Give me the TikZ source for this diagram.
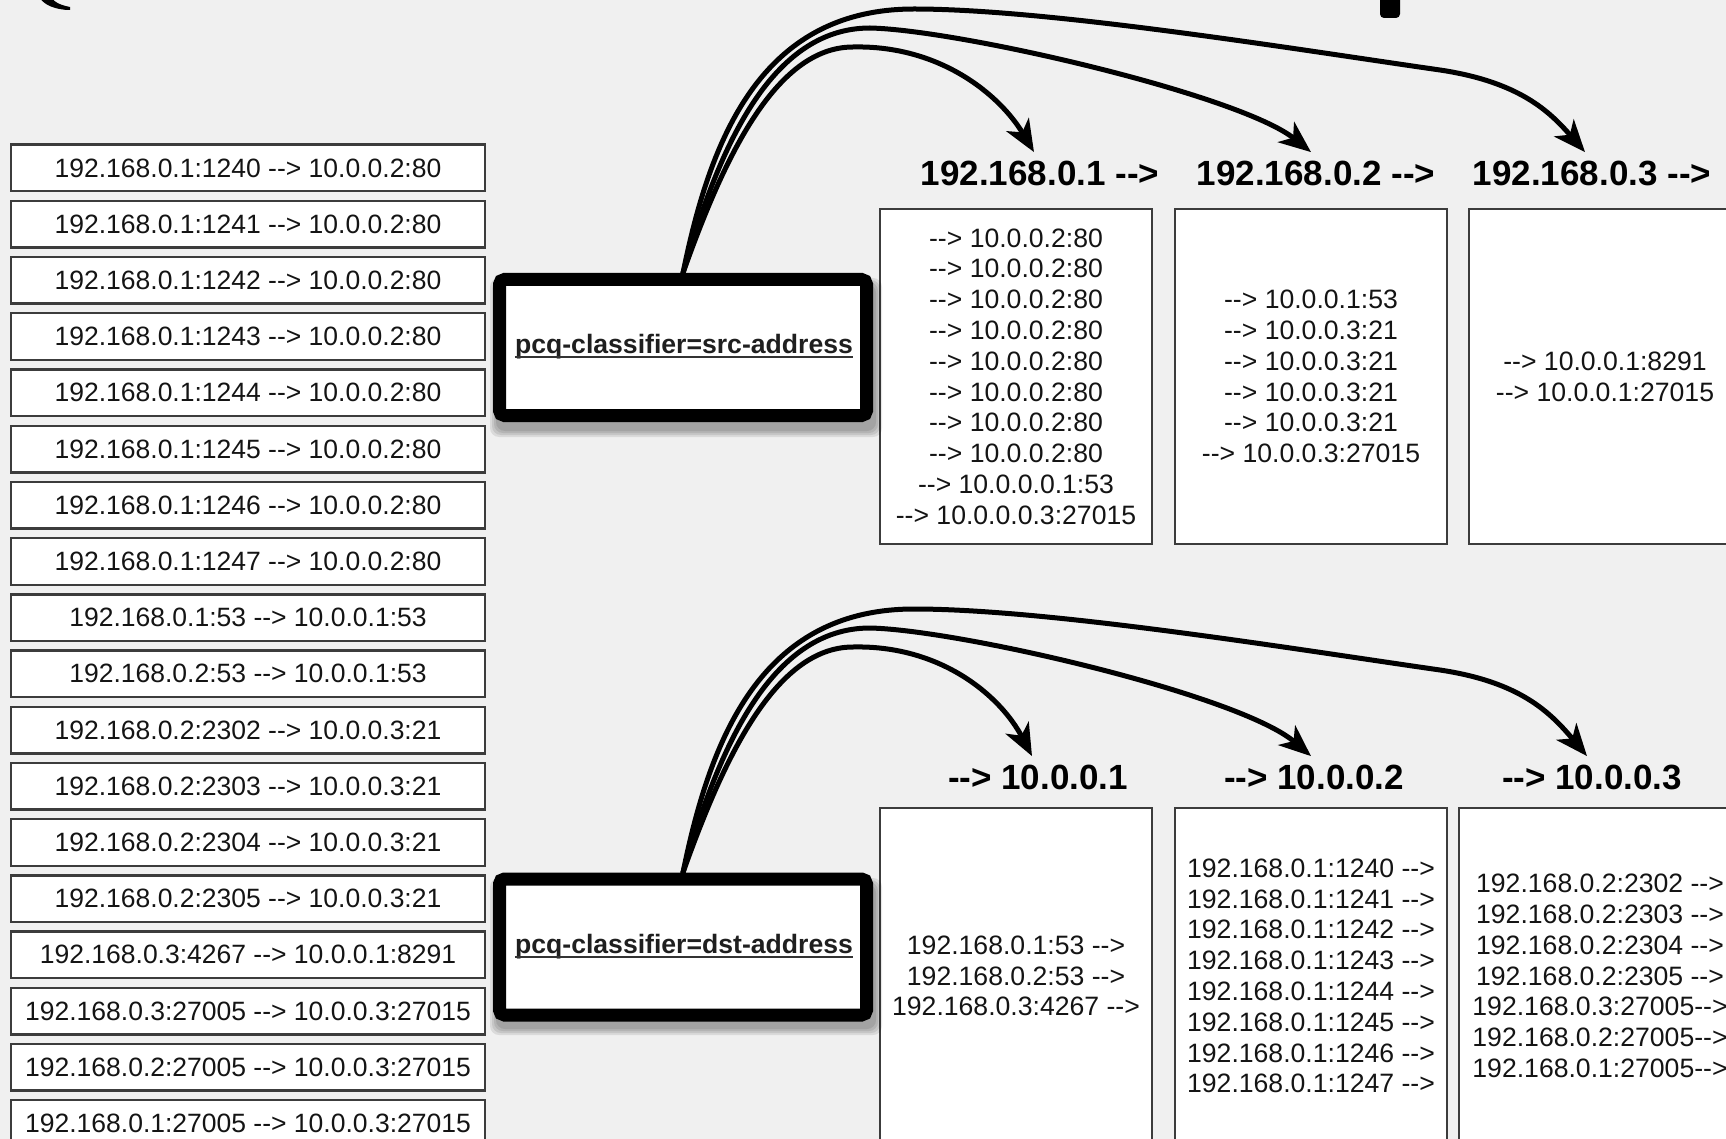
\documentclass[tikz,border=0pt]{standalone}
\usepackage{fontspec}
\setmainfont{Liberation Sans}[Ligatures=TeXOff]
\usetikzlibrary{arrows.meta,calc}
\definecolor{bgc}{RGB}{240,240,240}
\definecolor{bordc}{RGB}{60,60,60}
\definecolor{txtc}{RGB}{20,20,20}
\begin{document}
\begin{tikzpicture}[x=1pt,y=-1pt,
  flow/.style={draw=bordc, line width=2.4pt, fill=white, minimum width=473.6pt, minimum height=46.6pt, inner sep=0pt, text=txtc, font=\fontsize{26.5}{30}\selectfont},
  bucket/.style={draw=bordc, line width=2pt, fill=white, minimum width=272pt, minimum height=335pt, inner sep=0pt, align=center, text=txtc, font=\fontsize{26.6}{30.8}\selectfont},
  classif/.style={draw=black, line width=13pt, fill=white, rounded corners=5pt, minimum width=367pt, minimum height=136pt, inner sep=0pt},
  ctext/.style={font=\bfseries\fontsize{26.6}{30}\selectfont, inner sep=0pt, text=black!88},
  head/.style={font=\bfseries\fontsize{35}{40}\selectfont, inner sep=0pt, outer sep=8.5pt},
  conn/.style={line width=5pt, line cap=round, -{Stealth[length=32pt,width=26pt,inset=9pt]}},
  shadowbox/.style={fill=black, opacity=0.09, rounded corners=9pt},
]
\useasboundingbox (0,0) rectangle (1726,1139);
\clip (0,0) rectangle (1726,1139);
\fill[bgc] (0,0) rectangle (1726,1139);

% cut-off title glyphs at the top edge
\fill[black] (40,-2) .. controls (44,5) and (56,10) .. (70,10) -- (70,7) .. controls (60,5) and (54,2) .. (52,-2) -- cycle;
\fill[black, rounded corners=4pt] (1380,-8) rectangle (1400,18);

% left list of connections
\foreach \t [count=\i] in {
  192.168.0.1:1240 --> 10.0.0.2:80,
  192.168.0.1:1241 --> 10.0.0.2:80,
  192.168.0.1:1242 --> 10.0.0.2:80,
  192.168.0.1:1243 --> 10.0.0.2:80,
  192.168.0.1:1244 --> 10.0.0.2:80,
  192.168.0.1:1245 --> 10.0.0.2:80,
  192.168.0.1:1246 --> 10.0.0.2:80,
  192.168.0.1:1247 --> 10.0.0.2:80,
  192.168.0.1:53 --> 10.0.0.1:53,
  192.168.0.2:53 --> 10.0.0.1:53,
  192.168.0.2:2302 --> 10.0.0.3:21,
  192.168.0.2:2303 --> 10.0.0.3:21,
  192.168.0.2:2304 --> 10.0.0.3:21,
  192.168.0.2:2305 --> 10.0.0.3:21,
  192.168.0.3:4267 --> 10.0.0.1:8291,
  192.168.0.3:27005 --> 10.0.0.3:27015,
  192.168.0.2:27005 --> 10.0.0.3:27015,
  192.168.0.1:27005 --> 10.0.0.3:27015}
  \node[flow] (f\i) at (248, {168+56.2*(\i-1)}) {\t};

% top buckets (src-address)
\node[bucket] (s1) at (1016,376.5) {--> 10.0.0.2:80\\--> 10.0.0.2:80\\--> 10.0.0.2:80\\--> 10.0.0.2:80\\--> 10.0.0.2:80\\--> 10.0.0.2:80\\--> 10.0.0.2:80\\--> 10.0.0.2:80\\--> 10.0.0.0.1:53\\--> 10.0.0.0.3:27015};
\node[bucket] (s2) at (1311,376.5) {--> 10.0.0.1:53\\--> 10.0.0.3:21\\--> 10.0.0.3:21\\--> 10.0.0.3:21\\--> 10.0.0.3:21\\--> 10.0.0.3:27015};
\node[bucket] (s3) at (1605,376.5) {--> 10.0.0.1:8291\\--> 10.0.0.1:27015};

% bottom buckets (dst-address)
\node[bucket, minimum height=336pt] (d1) at (1016,976) {192.168.0.1:53 -->\\192.168.0.2:53 -->\\192.168.0.3:4267 -->};
\node[bucket, minimum height=336pt] (d2) at (1311,976) {192.168.0.1:1240 -->\\192.168.0.1:1241 -->\\192.168.0.1:1242 -->\\192.168.0.1:1243 -->\\192.168.0.1:1244 -->\\192.168.0.1:1245 -->\\192.168.0.1:1246 -->\\192.168.0.1:1247 -->};
\node[bucket, minimum height=336pt, minimum width=282pt] (d3) at (1600,976) {192.168.0.2:2302 -->\\192.168.0.2:2303 -->\\192.168.0.2:2304 -->\\192.168.0.2:2305 -->\\192.168.0.3:27005-->\\192.168.0.2:27005-->\\192.168.0.1:27005-->};

% headers
\node[head] (h1) at (1040,173) {192.168.0.1 -->};
\node[head] (h2) at (1316,173) {192.168.0.2 -->};
\node[head] (h3) at (1592,173) {192.168.0.3 -->};
\node[head] (h4) at (1038,777) {--> 10.0.0.1};
\node[head] (h5) at (1314,777) {--> 10.0.0.2};
\node[head] (h6) at (1592,777) {--> 10.0.0.3};

% classifier boxes with soft shadow
\foreach \s in {0,2,4,6}{
  \fill[shadowbox] (496-\s,284-\s) rectangle (876+\s,431+\s);
  \fill[shadowbox] (496-\s,884-\s) rectangle (876+\s,1029+\s);
}
\node[classif] (src) at (683,347.5) {};
\node[ctext] (srct) at (684,347) {pcq-classifier=src-address};
\draw[line width=1.6pt, black!80] ([yshift=-3pt]srct.base west) -- ([yshift=-3pt]srct.base east);
\node[classif] (dst) at (683,947) {};
\node[ctext] (dstt) at (684,947) {pcq-classifier=dst-address};
\draw[line width=1.6pt, black!80] ([yshift=-3pt]dstt.base west) -- ([yshift=-3pt]dstt.base east);

% arrow end points
\coordinate (t1) at ($(h1.north)+(-6,0)$);
\coordinate (t2) at ($(h2.north)+(-5,0)$);
\coordinate (t3) at ($(h3.north)+(-7,0)$);
\coordinate (b1) at ($(h4.north)+(-6,0)$);
\coordinate (b2) at ($(h5.north)+(-3,0)$);
\coordinate (b3) at ($(h6.north)+(-5,0)$);

% top connectors
\draw[conn] (src.north) .. controls (723,160) and (775,47) .. (853,47) .. controls (940,45) and (1000,95) .. (t1);
\draw[conn] (src.north) .. controls (718,150) and (770,28) .. (870,28) .. controls (960,30) and (1240,95) .. (t2);
\draw[conn] (src.north) .. controls (710,140) and (760,9) .. (914,9) .. controls (1050,9) and (1300,50) .. (1440,70) .. controls (1520,82) and (1550,112) .. (t3);

% bottom connectors (same shapes, 600 lower)
\begin{scope}[shift={(0,600)}]
\draw[conn] (dst.north) .. controls (723,160) and (775,47) .. (853,47) .. controls (940,45) and (1000,95) .. (b1);
\draw[conn] (dst.north) .. controls (718,150) and (770,28) .. (870,28) .. controls (960,30) and (1240,95) .. (b2);
\draw[conn] (dst.north) .. controls (710,140) and (760,9) .. (914,9) .. controls (1050,9) and (1300,50) .. (1440,70) .. controls (1520,82) and (1550,112) .. (b3);
\end{scope}
\end{tikzpicture}
\end{document}
